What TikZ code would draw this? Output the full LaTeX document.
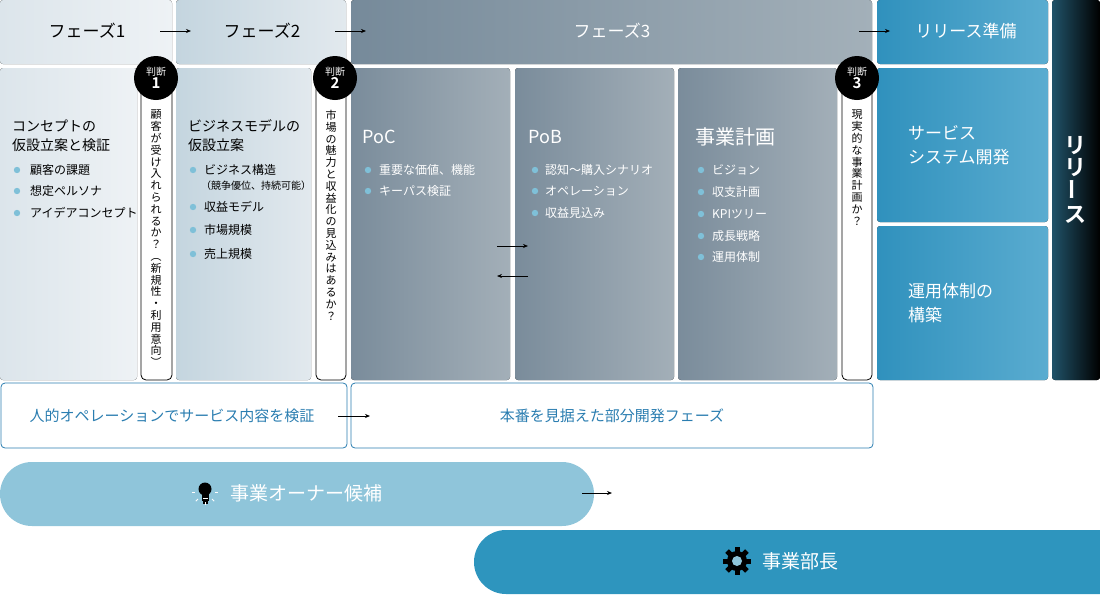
\documentclass[tikz,border=0pt]{standalone}
\usepackage{fontspec}
\setmainfont{Noto Sans CJK JP}
\newfontfamily\jpb{Noto Sans CJK JP Bold}
\usetikzlibrary{arrows.meta}
\definecolor{bl}{HTML}{2A7DB0}
\definecolor{dotc}{HTML}{7FC0D8}
\definecolor{pl}{HTML}{8FC5DA}
\definecolor{pd}{HTML}{2E95BE}
\newcommand{\fs}[1]{\fontsize{#1}{#1}\selectfont}
\tikzset{
  arr/.style={-{Stealth[length=5pt,width=4pt]},line width=0.7pt},
  box/.style={rounded corners=3pt},
  ttl/.style={anchor=west,align=left,inner sep=0pt},
  bul/.style={anchor=west,inner sep=0pt,font=\fs{12}},
  pill/.style={draw=black,fill=white,line width=0.8pt,rounded corners=5pt},
  jc/.style={circle,fill=black,minimum size=44pt,inner sep=0pt,text=white,align=center},
  vt/.style={anchor=north,align=center,inner sep=0pt,font=\fontsize{11}{11.8}\selectfont}
}
\newcommand{\dotat}[2]{\fill[dotc] (#1,#2) circle (3.2pt);}
\begin{document}
\begin{tikzpicture}[x=1pt,y=-1pt]
\useasboundingbox (0,0) rectangle (1100,595);
% headers
\fill[box,left color=black!0!white,right color=white] (0,0) rectangle (0,0);
\fill[box,left color={rgb,255:red,220;green,229;blue,235},right color={rgb,255:red,238;green,242;blue,245}] (0,0) rectangle (172,64);
\fill[box,left color={rgb,255:red,196;green,213;blue,223},right color={rgb,255:red,226;green,233;blue,238}] (176,0) rectangle (346,64);
\fill[box,left color={rgb,255:red,118;green,138;blue,154},right color={rgb,255:red,163;green,176;blue,185}] (351,0) rectangle (872,64);
\fill[box,left color={rgb,255:red,48;green,145;blue,189},right color={rgb,255:red,90;green,172;blue,208}] (877,0) rectangle (1048,64);
\fill[box,left color={rgb,255:red,32;green,82;blue,104},right color=black] (1052,0) rectangle (1100,380);
% bodies
\fill[box,left color={rgb,255:red,220;green,229;blue,235},right color={rgb,255:red,238;green,242;blue,245}] (0,68) rectangle (137,380);
\fill[box,left color={rgb,255:red,196;green,213;blue,223},right color={rgb,255:red,226;green,233;blue,238}] (176,68) rectangle (311,380);
\foreach \a/\b in {351/510,515/674,678/837}{
 \fill[box,left color={rgb,255:red,122;green,140;blue,155},right color={rgb,255:red,163;green,175;blue,184}] (\a,68) rectangle (\b,380);}
\fill[box,left color={rgb,255:red,48;green,145;blue,189},right color={rgb,255:red,90;green,172;blue,208}] (877,68) rectangle (1048,222);
\fill[box,left color={rgb,255:red,48;green,145;blue,189},right color={rgb,255:red,90;green,172;blue,208}] (877,226) rectangle (1048,380);
% header texts
\node[font=\fs{17}] (h1) at (87,31) {フェーズ1};
\node[font=\fs{17}] (h2) at (262,31) {フェーズ2};
\node[font=\fs{17},text=white] (h3) at (612,31) {フェーズ3};
\node[font=\fs{17},text=white] (h4) at (966,31) {リリース準備};
\coordinate (a1s) at (160,31); \coordinate (a1e) at (191,31);
\coordinate (a2s) at (335,31); \coordinate (a2e) at (366,31);
\coordinate (a3s) at (859,31); \coordinate (a3e) at (890,31);
\draw[arr] (a1s) -- (a1e); \draw[arr] (a2s) -- (a2e); \draw[arr] (a3s) -- (a3e);
% release
\node[font=\jpb\fs{22},text=white,align=center,inner sep=0pt] (rel) at (1075,180) {\fontsize{22}{27}\selectfont リ\\リ\\{\rotatebox{90}{ー}}\\ス};
% judgement pills
\draw[pill] (141,72) rectangle (172,380);
\draw[pill] (316,72) rectangle (346,380);
\draw[pill] (842,72) rectangle (872,380);
\node[jc] (j1) at (156,78) {\fs{10}判断\\[1pt]\jpb\fs{15}1};
\node[jc] (j2) at (335,78) {\fs{10}判断\\[1pt]\jpb\fs{15}2};
\node[jc] (j3) at (857,78) {\fs{10}判断\\[1pt]\jpb\fs{15}3};
\node[vt] (v1) at (156,110) {顧\\客\\が\\受\\け\\入\\れ\\ら\\れ\\る\\か\\？\\︵\\新\\規\\性\\・\\利\\用\\意\\向\\︶};
\node[vt] (v2) at (331,110) {市\\場\\の\\魅\\力\\と\\収\\益\\化\\の\\見\\込\\み\\は\\あ\\る\\か\\？};
\node[vt] (v3) at (857,110) {現\\実\\的\\な\\事\\業\\計\\画\\か\\？};
% phase1 content
\node[ttl,font=\fontsize{14}{19}\selectfont] (t1) at (12,136) {コンセプトの\\仮設立案と検証};
\dotat{17}{170}\node[bul] at (30,170) {顧客の課題};
\dotat{17}{191}\node[bul] at (30,191) {想定ペルソナ};
\dotat{17}{213}\node[bul] at (30,213) {アイデアコンセプト};
% phase2 content
\node[ttl,font=\fontsize{14}{19}\selectfont] (t2) at (188,136) {ビジネスモデルの\\仮設立案};
\dotat{193}{170}\node[bul] at (204,170) {ビジネス構造};
\node[bul,font=\fs{10}] at (201,186) {（競争優位、持続可能）};
\dotat{193}{207}\node[bul] at (204,207) {収益モデル};
\dotat{193}{230}\node[bul] at (204,230) {市場規模};
\dotat{193}{254}\node[bul] at (204,254) {売上規模};
% phase3
\begin{scope}[text=white]
\node[ttl,font=\fs{18}] (poc) at (362,137) {PoC};
\dotat{368}{170}\node[bul] at (379,170) {重要な価値、機能};
\dotat{368}{191}\node[bul] at (379,191) {キーパス検証};
\node[ttl,font=\fs{18}] (pob) at (528,137) {PoB};
\dotat{535}{170}\node[bul] at (545,170) {認知～購入シナリオ};
\dotat{535}{191}\node[bul] at (545,191) {オペレーション};
\dotat{535}{213}\node[bul] at (545,213) {収益見込み};
\node[ttl,font=\fs{20}] (biz) at (695,137) {事業計画};
\dotat{701}{170}\node[bul] at (712,170) {ビジョン};
\dotat{701}{192}\node[bul] at (712,192) {収支計画};
\dotat{701}{214}\node[bul] at (712,214) {KPIツリー};
\dotat{701}{236}\node[bul] at (712,236) {成長戦略};
\dotat{701}{257}\node[bul] at (712,257) {運用体制};
\node[ttl,font=\fontsize{17}{24}\selectfont] (svc) at (908,145) {サービス\\システム開発};
\node[ttl,font=\fontsize{17}{24}\selectfont] (ops) at (908,303) {運用体制の\\構築};
\end{scope}
\coordinate (p1) at (497,246); \coordinate (p2) at (528,246);
\coordinate (p3) at (528,276); \coordinate (p4) at (497,276);
\draw[arr] (p1) -- (p2); \draw[arr] (p3) -- (p4);
% bottom boxes
\draw[bl,line width=0.8pt,rounded corners=4pt] (1,383) rectangle (347,448);
\draw[bl,line width=0.8pt,rounded corners=4pt] (351,383) rectangle (873,448);
\node[text=bl,font=\fs{15}] (b1) at (172,416) {人的オペレーションでサービス内容を検証};
\node[text=bl,font=\fs{15}] (b2) at (612,416) {本番を見据えた部分開発フェーズ};
\coordinate (b1s) at (338,416); \coordinate (b1e) at (370,416);
\draw[arr] (b1s) -- (b1e);
% pills
\fill[pl,rounded corners=32pt] (0,462) rectangle (594,526);
\fill[pd,rounded corners=32pt] (474,530) rectangle (1140,594);
\coordinate (o1) at (582,493); \coordinate (o2) at (612,493);
\draw[arr] (o1) -- (o2);
\node[text=white,font=\fs{19},anchor=west,inner sep=0pt] (own) at (230,493) {事業オーナー候補};
\node[text=white,font=\fs{19},anchor=west,inner sep=0pt] (mgr) at (762,561) {事業部長};
% bulb icon
\begin{scope}[shift={(205,492)}]
 \fill[black] (0,-3) circle (6.5pt);
 \fill[black] (-3.5,2) rectangle (3.5,9);
 \fill[black] (-2.5,9) rectangle (2.5,12);
 \fill[white] (-2.5,5.5) rectangle (2.5,6.2);
 \foreach \an in {-90,-45,-135,0,180}{\draw[white,line width=1pt] (\an:10pt) -- (\an:13pt);}
\end{scope}
% gear icon
\begin{scope}[shift={(737,561)}]
 \foreach \an in {0,45,...,315}{\fill[black,rotate=\an] (-2.5,-14) rectangle (2.5,0);}
 \fill[black] (0,0) circle (10pt);
 \fill[pl] (0,0) circle (5pt);
\end{scope}
\end{tikzpicture}
\end{document}
